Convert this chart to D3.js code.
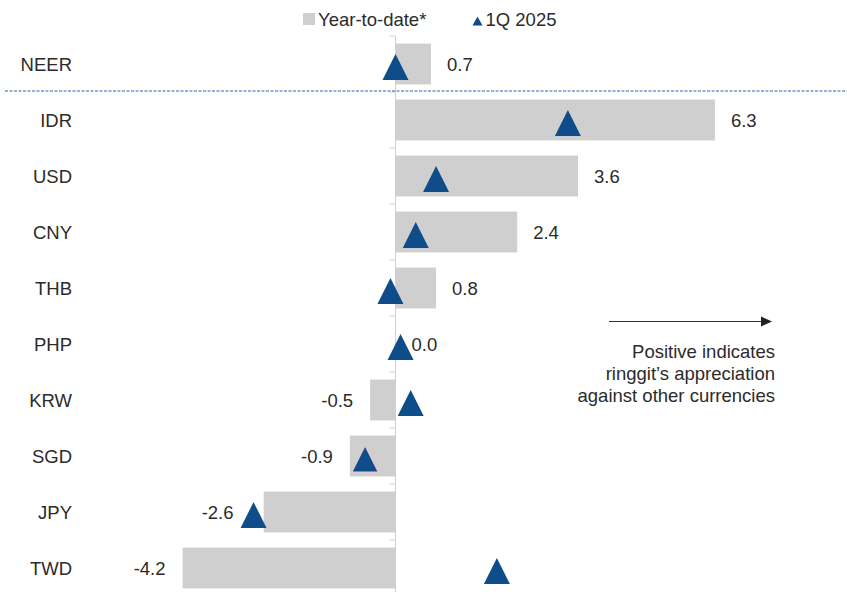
<!DOCTYPE html>
<html>
<head>
<meta charset="utf-8">
<script src="https://cdn.jsdelivr.net/npm/d3@7"></script>
<style>
  html, body { margin: 0; padding: 0; background: #ffffff; }
  svg { display: block; font-family: "Liberation Sans", Arial, Helvetica, sans-serif; }
</style>
</head>
<body>
<svg id="chart" width="847" height="592"></svg>
<script>
// Ringgit performance against selected currencies (%)
const categories = ["NEER", "IDR", "USD", "CNY", "THB", "PHP", "KRW", "SGD", "JPY", "TWD"];
const yearToDate = [0.7, 6.3, 3.6, 2.4, 0.8, 0.0, -0.5, -0.9, -2.6, -4.2];
const q1_2025 = [0.0, 3.4, 0.8, 0.4, -0.1, 0.1, 0.3, -0.6, -2.8, 2.0];
const legendLabels = ["Year-to-date*", "1Q 2025"];
const noteLines = ["Positive indicates", "ringgit\u2019s appreciation", "against other currencies"];

const barColor = "#d0cfd0";
const markColor = "#0e4d89";
const textColor = "#2b2b2b";
const fontSize = 18.5;

const svg = d3.select("#chart");

const x = d3.scaleLinear().domain([-5, 7]).range([142, 750.4]);
const y = d3.scaleBand()
  .domain(categories)
  .range([36, 596])
  .paddingInner(0.27)
  .paddingOuter(0.135);

const rows = categories.map((c, i) => ({ cat: c, ytd: yearToDate[i], q1: q1_2025[i] }));
const cy = d => y(d.cat) + y.bandwidth() / 2;
const x0 = x(0);
const fmt = v => d3.format(".1f")(v).replace("\u2212", "-");

// Zero reference line with ticks at row boundaries
svg.append("line")
  .attr("x1", x0).attr("x2", x0)
  .attr("y1", 36).attr("y2", 592)
  .attr("stroke", "#cfcfcf").attr("stroke-width", 1);

svg.append("g").selectAll("line")
  .data(categories)
  .join("line")
  .attr("x1", x0 - 6).attr("x2", x0)
  .attr("y1", c => y(c) - y.step() * y.paddingInner() / 2)
  .attr("y2", c => y(c) - y.step() * y.paddingInner() / 2)
  .attr("stroke", "#cfcfcf").attr("stroke-width", 1);

// Bars (year-to-date)
svg.append("g").selectAll("rect")
  .data(rows)
  .join("rect")
  .attr("x", d => Math.min(x(d.ytd), x0))
  .attr("width", d => Math.abs(x(d.ytd) - x0))
  .attr("y", d => y(d.cat))
  .attr("height", y.bandwidth())
  .attr("fill", barColor);

// Separator between NEER and bilateral rates
const sepY = y(categories[1]) - y.step() * y.paddingInner() / 2 - 1;
svg.append("line")
  .attr("x1", 5).attr("x2", 847)
  .attr("y1", sepY).attr("y2", sepY)
  .attr("stroke", "#2f5f9e").attr("stroke-width", 1)
  .attr("stroke-dasharray", "3,1.5");

// Category labels
svg.append("g").selectAll("text")
  .data(rows)
  .join("text")
  .attr("x", 72)
  .attr("y", d => cy(d) + 6.5)
  .attr("text-anchor", "end")
  .attr("font-size", fontSize)
  .attr("fill", textColor)
  .text(d => d.cat);

// Value labels
const tri = (cx, c) => `M${cx},${c - 10}L${cx + 13},${c + 16}L${cx - 13},${c + 16}Z`;
svg.append("g").selectAll("text")
  .data(rows)
  .join("text")
  .attr("x", d => {
    if (d.ytd >= 0) return x(d.ytd) + 16;
    const triLeft = x(d.q1) - 13;
    return Math.min(x(d.ytd) - 17, triLeft - 7);
  })
  .attr("y", d => cy(d) + 6.5)
  .attr("text-anchor", d => d.ytd >= 0 ? "start" : "end")
  .attr("font-size", fontSize)
  .attr("fill", textColor)
  .text(d => fmt(d.ytd));

// Triangles (1Q 2025)
svg.append("g").selectAll("path")
  .data(rows)
  .join("path")
  .attr("d", d => tri(x(d.q1), cy(d)))
  .attr("fill", markColor)
  .attr("stroke", d => d.cat === "SGD" ? "#f2c4d4" : "none")
  .attr("stroke-width", 1);

// Legend
const lg = svg.append("g");
lg.append("rect").attr("x", 303).attr("y", 13).attr("width", 12).attr("height", 12).attr("fill", barColor);
lg.append("text").attr("x", 318).attr("y", 26).attr("font-size", fontSize).attr("fill", textColor).text(legendLabels[0]);
lg.append("path").attr("d", "M477.5,16.5L482.5,25.5L472.5,25.5Z").attr("fill", markColor);
lg.append("text").attr("x", 485.5).attr("y", 26).attr("font-size", fontSize).attr("fill", textColor).text(legendLabels[1]);

// Direction note
svg.append("line")
  .attr("x1", 609).attr("x2", 762)
  .attr("y1", 321.5).attr("y2", 321.5)
  .attr("stroke", "#333").attr("stroke-width", 1);
svg.append("path")
  .attr("d", "M772,321.5L761,316.5L761,326.5Z")
  .attr("fill", "#222");
svg.append("g").selectAll("text")
  .data(noteLines)
  .join("text")
  .attr("x", 775)
  .attr("y", (d, i) => 358 + i * 22)
  .attr("text-anchor", "end")
  .attr("font-size", fontSize)
  .attr("fill", textColor)
  .text(d => d);
</script>
</body>
</html>
